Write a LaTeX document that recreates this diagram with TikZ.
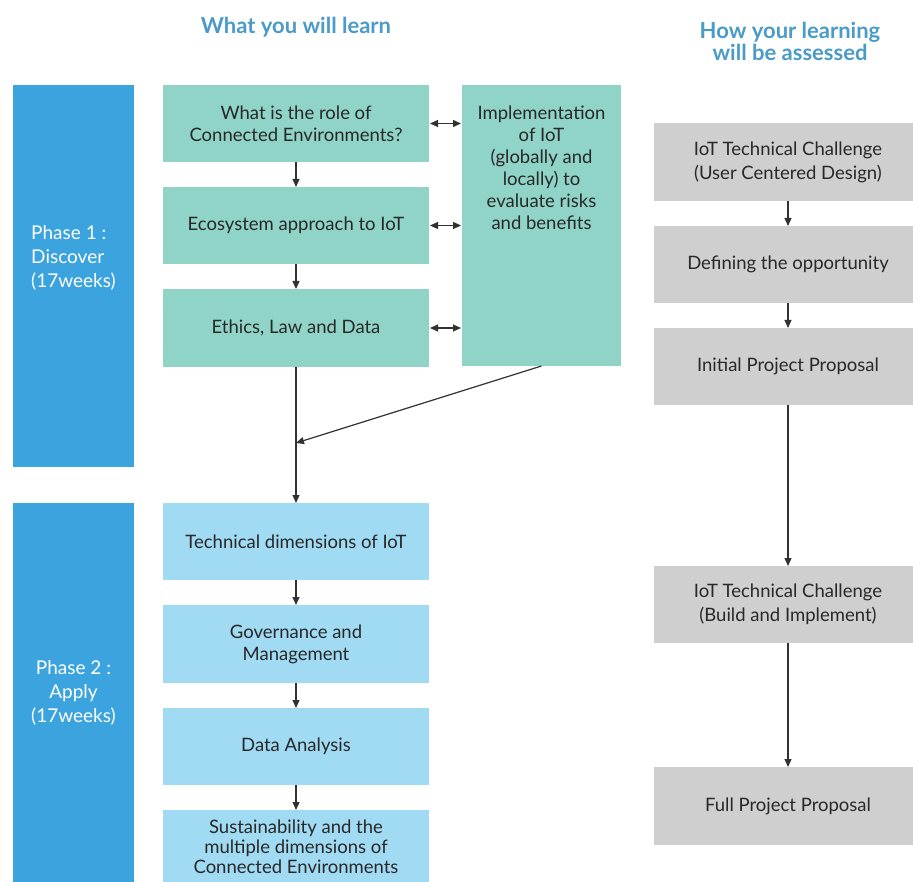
\documentclass[tikz,border=0pt]{standalone}
\usepackage{fontspec}
\setmainfont{Lato}
\usetikzlibrary{arrows.meta}
\definecolor{phaseblue}{RGB}{59,163,222}
\definecolor{tealc}{RGB}{143,212,199}
\definecolor{lightbl}{RGB}{160,218,243}
\definecolor{grayc}{RGB}{207,207,207}
\definecolor{headc}{RGB}{74,155,200}
\definecolor{textc}{RGB}{40,40,40}
\definecolor{arrc}{RGB}{50,50,50}
\begin{document}
\begin{tikzpicture}[x=1pt,y=-1pt,
  box/.style={anchor=north west, inner sep=2pt, outer sep=0pt, align=center, text=textc, font=\fontsize{18.5}{22}\selectfont},
  tealbox/.style={box, fill=tealc, minimum width=266pt},
  bluebox/.style={box, fill=lightbl, minimum width=266pt},
  graybox/.style={box, fill=grayc, minimum width=268pt},
  phasebox/.style={anchor=north west, fill=phaseblue, inner sep=0pt, outer sep=0pt, minimum width=121pt, text=white, font=\fontsize{19}{24}\selectfont},
  header/.style={text=headc, font=\fontsize{22}{22}\selectfont\bfseries, align=center},
  arr/.style={draw=arrc, line width=1.2pt, -{Triangle[length=8pt,width=7pt]}},
  darr/.style={draw=arrc, line width=1.2pt, {Triangle[length=8pt,width=7pt]}-{Triangle[length=8pt,width=7pt]}, shorten <=1pt, shorten >=1pt},
  ]
\clip (0,0) rectangle (913,882);
\fill[white] (0,0) rectangle (913,882);

% headers
\node[header] (h1) at (296,27) {What you will learn};
\node[header] (h2) at (790,41) {How your learning\\will be assessed};

% phases
\node[phasebox, minimum height=382pt, align=left] (p1) at (13,85) {Phase 1 :\\Discover\\(17weeks)\\[14pt]};
\node[phasebox, minimum height=379pt, align=center] (p2) at (13,503) {Phase 2 :\\Apply\\(17weeks)};

% phase 1 boxes
\node[tealbox, minimum height=77pt] (b1) at (163,85) {What is the role of\\Connected Environments?};
\node[tealbox, minimum height=77pt] (b2) at (163,187) {Ecosystem approach to IoT};
\node[tealbox, minimum height=78pt] (b3) at (163,289) {Ethics, Law and Data};
\node[tealbox, minimum width=159pt, minimum height=281pt,
  label={[anchor=north, yshift=-17pt, align=center, text=textc, font=\fontsize{18.5}{22}\selectfont]north:{Implementation\\of IoT\\(globally and\\locally) to\\evaluate risks\\and benefits}}] (imp) at (462,85) {};

% phase 2 boxes
\node[bluebox, minimum height=77pt] (t1) at (163,503) {Technical dimensions of IoT};
\node[bluebox, minimum height=78pt] (t2) at (163,605) {Governance and\\Management};
\node[bluebox, minimum height=77pt] (t3) at (163,708) {Data Analysis};
\node[bluebox, minimum height=74pt, font=\fontsize{18.5}{20}\selectfont] (t4) at (163,810) {Sustainability and the\\multiple dimensions of\\Connected Environments};

% assessment boxes
\node[graybox, minimum height=78pt, font=\fontsize{18.5}{24}\selectfont] (g1) at (654,123) {IoT Technical Challenge\\(User Centered Design)};
\node[graybox, minimum height=77pt] (g2) at (654,226) {Defining the opportunity};
\node[graybox, minimum height=77pt] (g3) at (654,328) {Initial Project Proposal};
\node[graybox, minimum height=77pt, font=\fontsize{18.5}{24}\selectfont] (g4) at (654,566) {IoT Technical Challenge\\(Build and Implement)};
\node[graybox, minimum height=78pt] (g5) at (654,767) {Full Project Proposal};

% connectors
\draw[arr] (b1.south) -- (b2.north);
\draw[arr] (b2.south) -- (b3.north);
\draw[arr] (b3.south) -- (t1.north);
\coordinate (m) at (296,443);
\draw[arr] (imp.south) -- (m);
\draw[darr] (b1.east) -- (b1.east -| imp.west);
\draw[darr] (b2.east) -- (b2.east -| imp.west);
\draw[darr] (b3.east) -- (b3.east -| imp.west);

\draw[arr] (t1.south) -- (t2.north);
\draw[arr] (t2.south) -- (t3.north);
\draw[arr] (t3.south) -- (t4.north);

\draw[arr] (g1.south) -- (g2.north);
\draw[arr] (g2.south) -- (g3.north);
\draw[arr] (g3.south) -- (g4.north);
\draw[arr] (g4.south) -- (g5.north);
\end{tikzpicture}
\end{document}
